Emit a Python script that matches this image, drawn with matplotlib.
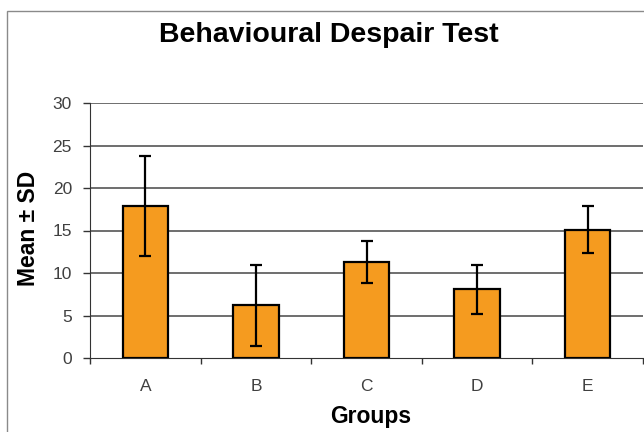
import matplotlib
matplotlib.use("Agg")
import matplotlib.pyplot as plt
from matplotlib.patches import Rectangle
import numpy as np

groups = ["A", "B", "C", "D", "E"]
means = [17.9, 6.2, 11.3, 8.1, 15.1]
sds = [5.9, 4.8, 2.5, 2.9, 2.8]
yticks = [0, 5, 10, 15, 20, 25, 30]

plt.rcParams['font.family'] = ['Liberation Sans', 'DejaVu Sans']

fig = plt.figure(figsize=(6.44, 4.32), dpi=100)
# outer chart frame (extends beyond image on right/bottom)
fig.patches.append(Rectangle((7/644, -0.05), 1.2, (432-11)/432 + 0.05,
                             transform=fig.transFigure, fill=False,
                             edgecolor='#8a8a8a', linewidth=1.0))

ax = fig.add_axes([90/644, (432-358)/432, (643-90)/644, 255/432])
x = np.arange(len(groups))
ax.bar(x, means, width=0.41, color='#F59B1F', edgecolor='black', linewidth=1.6, zorder=3)
ax.errorbar(x, means, yerr=sds, fmt='none', ecolor='black', elinewidth=1.6,
            capsize=4.3, capthick=1.6, zorder=4)

ax.set_xlim(-0.5, len(groups) - 0.5)
ax.set_ylim(0, 30)
ax.set_yticks(yticks)
ax.tick_params(axis='y', labelsize=12.5, labelcolor='#404040', length=5, pad=8,
               color='#333333', width=1)
for yv in yticks[1:]:
    ax.axhline(yv, color='#474747', linewidth=1.1, zorder=1)

ax.set_xticks(np.arange(len(groups) + 1) - 0.5)
ax.set_xticklabels([])
ax.tick_params(axis='x', which='major', length=4, color='#333333', width=1)
ax.set_xticks(x, minor=True)
ax.set_xticklabels(groups, minor=True)
ax.tick_params(axis='x', which='minor', length=0, pad=15, labelsize=12.5, labelcolor='#404040')

for s in ['top', 'right']:
    ax.spines[s].set_visible(False)
ax.spines['left'].set_color('#333333')
ax.spines['bottom'].set_color('#333333')

ax.set_xlabel("Groups", fontsize=16.5, fontweight='bold', va='baseline')
ax.xaxis.set_label_coords(0.507, (358 - 423.3) / 255)
ax.set_ylabel("Mean ± SD", fontsize=16.5, fontweight='bold')
ax.yaxis.set_label_coords((40 - 90) / 553, (358 - 228.3) / 255)
fig.text(328.5/644, 1 - 41.7/432, "Behavioural Despair Test", ha='center', va='baseline',
         fontsize=20.5, fontweight='bold')

fig.savefig("out.png", dpi=100)
